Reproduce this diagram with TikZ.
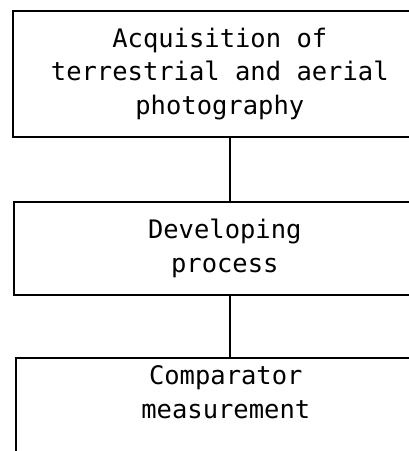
\documentclass[tikz,border=0pt]{standalone}
\usepackage{fontspec}
\setmonofont{DejaVu Sans Mono}
\usepackage{tikz}

\tikzset{
	stage/.style={draw, line width=1.6pt, anchor=north west, align=center,
		font=\ttfamily\fontsize{25.5}{33.5}\selectfont, inner sep=0pt},
	link/.style={line width=1.6pt}
}

\begin{document}
\begin{tikzpicture}[x=1pt, y=-1pt]
			\useasboundingbox (0,0) rectangle (409,451);
			\clip (0,0) rectangle (409,451);

			% boxes, right side and bottom run off the page
			\node[stage, minimum width=414pt, minimum height=126pt] (acq) at (12,10)
				{Acquisition of\\terrestrial and aerial\\photography};
			\node[stage, minimum width=422pt, minimum height=93pt] (dev) at (13,201)
				{Developing\\process};
			\node[stage, minimum width=420pt, text depth=80pt, inner ysep=8pt] (cmp) at (15,357)
				{Comparator\\measurement};

			% vertical links
			\draw[link] ([xshift=10pt]acq.south) -- ([xshift=10pt]acq.south |- dev.north);
			\draw[link] ([xshift=5pt]dev.south) -- ([xshift=5pt]dev.south |- cmp.north);

		\end{tikzpicture}
\end{document}
